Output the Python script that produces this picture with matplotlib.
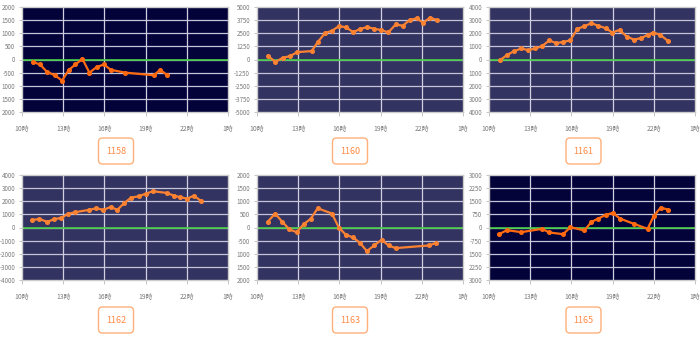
import matplotlib
matplotlib.use("Agg")
import matplotlib.pyplot as plt
from matplotlib.patches import FancyBboxPatch

plt.rcParams['font.family'] = ['Noto Sans CJK JP', 'DejaVu Sans']

# ---- data (time in decimal hours, value) ----
names = ["1158", "1160", "1161", "1162", "1163", "1165"]

t1158 = [10.78, 11.31, 11.82, 12.38, 12.92, 13.41, 13.89, 14.40, 14.91, 15.43,
         15.96, 16.47, 17.52, 19.59, 20.07, 20.58]
v1158 = [-90, -190, -470, -600, -800, -395, -190, 20, -500, -290,
         -190, -395, -500, -600, -395, -600]

t1160 = [10.78, 11.34, 11.88, 12.39, 12.93, 13.98, 14.44, 14.95, 15.46, 15.98,
         16.49, 17.00, 17.51, 18.02, 18.54, 19.05, 19.56, 20.10, 20.61, 21.12,
         21.63, 22.10, 22.59, 23.12]
v1160 = [350, -220, 160, 320, 700, 800, 1690, 2515, 2740, 3185,
         3060, 2610, 2900, 3090, 2930, 2800, 2580, 3340, 3215, 3760,
         3920, 3500, 3980, 3760]

t1161 = [10.78, 11.29, 11.82, 12.36, 12.87, 13.36, 13.87, 14.38, 14.91, 15.42,
         15.91, 16.44, 16.95, 17.46, 17.97, 18.49, 18.99, 19.51, 20.02, 20.55,
         21.06, 21.57, 21.96, 22.47, 23.03]
v1161 = [-76, 330, 635, 840, 710, 840, 1015, 1450, 1245, 1345,
         1450, 2335, 2540, 2765, 2565, 2385, 2055, 2260, 1750, 1520,
         1625, 1880, 2055, 1880, 1420]

t1162 = [10.73, 11.26, 11.84, 12.33, 12.86, 13.35, 13.86, 14.88, 15.41, 15.92,
         16.46, 16.94, 17.45, 17.96, 18.50, 19.03, 19.54, 20.56, 21.04, 21.53,
         22.04, 22.52, 23.03]
v1162 = [557, 658, 430, 633, 734, 1038, 1165, 1342, 1468, 1342,
         1570, 1342, 1873, 2278, 2380, 2582, 2760, 2633, 2430, 2304,
         2203, 2430, 2025]

t1163 = [10.78, 11.31, 11.85, 12.36, 12.89, 13.40, 13.91, 14.42, 15.45, 15.96,
         16.47, 17.00, 17.49, 18.00, 18.53, 19.07, 19.58, 20.09, 22.52, 23.06]
v1163 = [215, 532, 215, -76, -177, 127, 330, 734, 532, 0,
         -278, -380, -582, -899, -684, -468, -684, -785, -684, -582]

t1165 = [10.75, 11.29, 12.36, 13.87, 14.38, 15.40, 15.93, 16.95, 17.46, 17.97,
         18.49, 19.02, 19.53, 20.55, 21.55, 21.99, 22.50, 23.03]
v1165 = [-380, -152, -266, -76, -285, -380, 19, -171, 323, 513,
         722, 835, 513, 209, -76, 646, 1139, 1025]

times = [t1158, t1160, t1161, t1162, t1163, t1165]
values = [v1158, v1160, v1161, v1162, v1163, v1165]

# y scale of each panel: limit and tick step
y_limits = [2000, 5000, 4000, 4000, 2000, 3000]
y_steps = [500, 1250, 1000, 1000, 500, 750]

# y tick labels, bottom to top
ylabels_1158 = ["2000", "1500", "1000", "-500", "0", "500", "1000", "1500", "2000"]
ylabels_1160 = ["-5000", "-3750", "-2500", "-1250", "0", "1250", "2500", "3750", "5000"]
ylabels_1161 = ["4000", "3000", "2000", "1000", "0", "1000", "2000", "3000", "4000"]
ylabels_1162 = ["-4000", "-3000", "-2000", "-1000", "0", "1000", "2000", "3000", "4000"]
ylabels_1163 = ["2000", "1500", "1000", "-500", "0", "500", "1000", "1500", "2000"]
ylabels_1165 = ["3000", "2250", "1500", "-750", "0", "750", "1500", "2250", "3000"]
ylabels = [ylabels_1158, ylabels_1160, ylabels_1161, ylabels_1162, ylabels_1163, ylabels_1165]

x_ticks = [10, 13, 16, 19, 22, 25]
x_labels = ["10時", "13時", "16時", "19時", "22時", "1時"]

# ---- styling ----
dark_bg = "#03033a"
slate_bg = "#333361"
bgs = [dark_bg, slate_bg, slate_bg, slate_bg, slate_bg, dark_bg]
line_cols = ["#ff6a10", "#fa8232", "#fa8232", "#fa8232", "#fa8232", "#ff6a10"]

W, H = 700, 338
fig = plt.figure(figsize=(W / 100, H / 100), dpi=100)

# panel rectangles in pixels: left, top, width, height
lefts = [22, 257, 489]
tops = [7, 175]
pw, ph = 206, 105
box_cx = [116, 350, 583.5]
box_top = [138, 307]

for i in range(6):
    r, c = divmod(i, 3)
    l, t = lefts[c], tops[r]
    ax = fig.add_axes([l / W, 1 - (t + ph) / H, pw / W, ph / H])
    ax.set_facecolor(bgs[i])
    lim, step = y_limits[i], y_steps[i]
    yt = [k * step for k in range(-4, 5)]
    ax.set_ylim(-lim, lim)
    ax.set_xlim(10, 25)
    ax.set_yticks(yt)
    ax.set_yticklabels(ylabels[i])
    ax.set_xticks(x_ticks)
    ax.set_xticklabels(x_labels)
    ax.tick_params(axis="y", length=2, width=0.6, color="#bbbbbb",
                   labelsize=4.5, labelcolor="#7a7a7a", pad=3)
    ax.tick_params(axis="x", length=3, width=0.6, color="#bbbbbb",
                   labelsize=4.9, labelcolor="#7a7a7a", pad=6)
    for y in yt[1:-1]:
        ax.axhline(y, color="#c4c4d8", lw=0.9, zorder=1)
    for x in x_ticks[1:-1]:
        ax.axvline(x, color="#d0d0e0", lw=0.9, zorder=1)
    ax.axhline(0, color="#44cc44", lw=1.2, zorder=2)
    ax.plot(times[i], values[i], color=line_cols[i], lw=1.6, marker="o",
            markersize=2.6, zorder=3, solid_capstyle="round")
    for s in ax.spines.values():
        s.set_color("#cccccc")
        s.set_linewidth(1.0)

    # name tag below the panel
    bx = box_cx[c] - 17.5
    by = box_top[r]
    patch = FancyBboxPatch((bx / 100, (H - by - 26) / 100), 35 / 100, 26 / 100,
                           boxstyle="round,pad=0,rounding_size=0.04",
                           transform=fig.dpi_scale_trans, facecolor="white",
                           edgecolor="#ffb07a", linewidth=1.0)
    fig.patches.append(patch)
    fig.text(box_cx[c] / W, 1 - (by + 13.5) / H, names[i], ha="center", va="center",
             fontsize=6.5, color="#ff8a45")

fig.savefig("out.png", dpi=100)
